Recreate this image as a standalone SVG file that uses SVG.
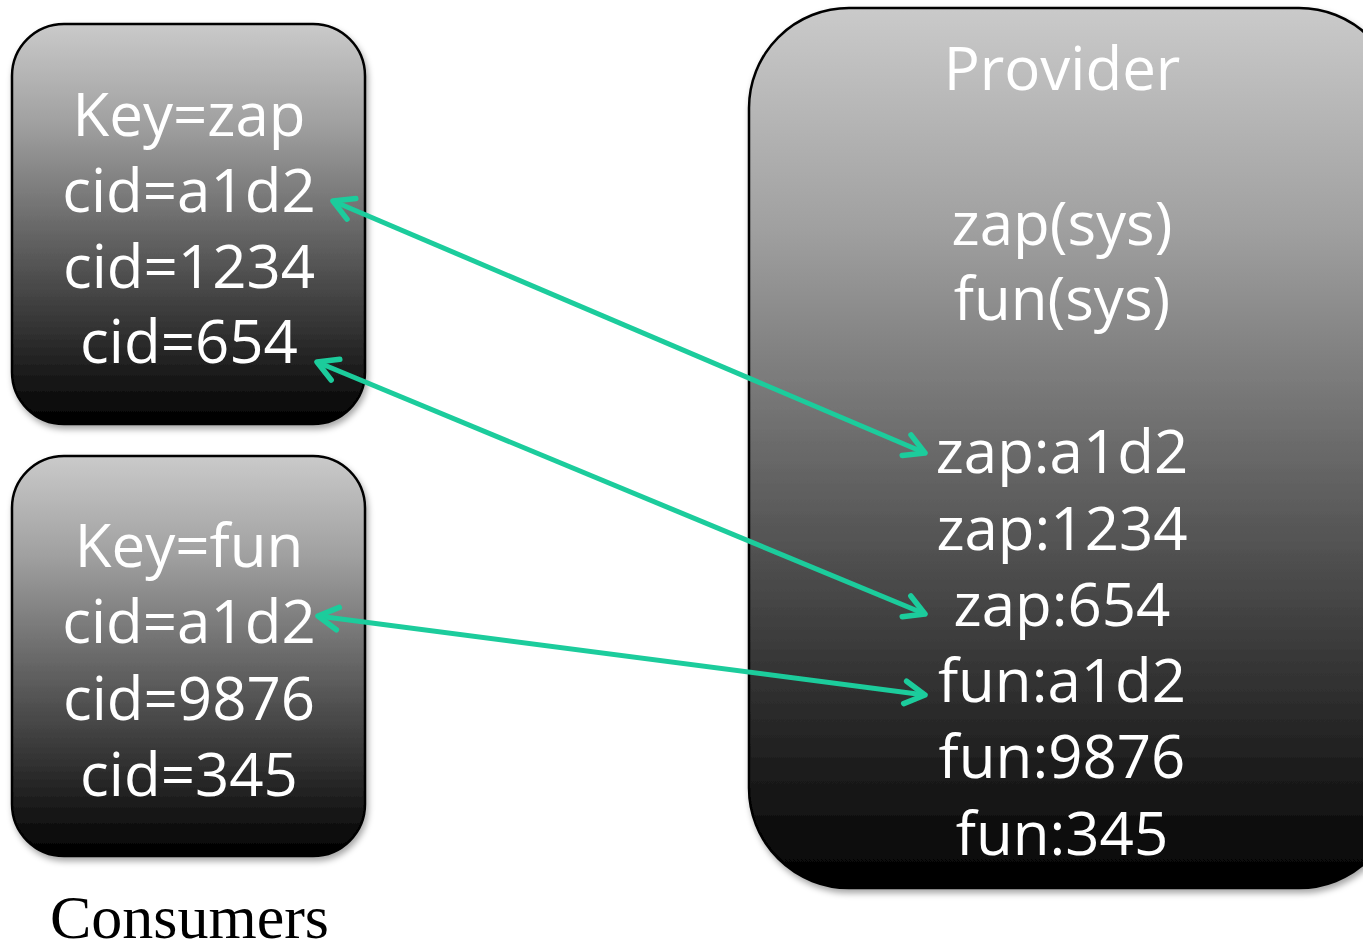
<svg xmlns="http://www.w3.org/2000/svg" width="1363" height="950" viewBox="0 0 1363 950">
<style>
.box{stroke:#000;stroke-width:2.5;filter:url(#sh)}
.t{font-family:"Open Sans","DejaVu Sans",sans-serif;font-size:60px;fill:#fff;text-anchor:middle}
.c{stroke:#1ccc9c;stroke-width:5;fill:none;marker-start:url(#ah);marker-end:url(#ah)}
.lbl{font-family:"Liberation Serif","Times New Roman",serif;font-size:62px;fill:#000}
</style>
<defs>
<linearGradient id="g1" x1="0" y1="0" x2="0" y2="1">
<stop offset="0" stop-color="#cacaca"/>
<stop offset="0.25" stop-color="#a0a0a0"/>
<stop offset="0.5" stop-color="#6a6a6a"/>
<stop offset="0.75" stop-color="#353535"/>
<stop offset="1" stop-color="#000"/>
</linearGradient>
<filter id="sh" x="-10%" y="-10%" width="120%" height="120%">
<feDropShadow dx="2" dy="4" stdDeviation="3" flood-color="#000" flood-opacity="0.35"/>
</filter>
<marker id="ah" viewBox="0 0 12 12" refX="10" refY="6" markerWidth="6" markerHeight="6" orient="auto-start-reverse" markerUnits="strokeWidth">
<polyline points="2,1.5 10,6 2,10.5" fill="none" stroke="#1ccc9c" stroke-width="2.2" stroke-linecap="round" stroke-linejoin="round"/>
</marker>
</defs>
<g id="consumer-zap">
<rect class="box" x="12" y="24" width="353" height="400" rx="52" fill="url(#g1)"/>
<text class="t" x="189" y="136">Key=zap</text>
<text class="t" x="189" y="212">cid=a1d2</text>
<text class="t" x="189" y="288">cid=1234</text>
<text class="t" x="189" y="363">cid=654</text>
</g>
<g id="consumer-fun">
<rect class="box" x="12" y="456" width="353" height="400" rx="52" fill="url(#g1)"/>
<text class="t" x="189" y="567">Key=fun</text>
<text class="t" x="189" y="643">cid=a1d2</text>
<text class="t" x="189" y="720">cid=9876</text>
<text class="t" x="189" y="796">cid=345</text>
</g>
<g id="provider">
<rect class="box" x="749" y="8" width="650" height="880" rx="100" fill="url(#g1)"/>
<text class="t" x="1062" y="90">Provider</text>
<text class="t" x="1062" y="245">zap(sys)</text>
<text class="t" x="1062" y="320">fun(sys)</text>
<text class="t" x="1062" y="473">zap:a1d2</text>
<text class="t" x="1062" y="550">zap:1234</text>
<text class="t" x="1062" y="626">zap:654</text>
<text class="t" x="1062" y="702">fun:a1d2</text>
<text class="t" x="1062" y="778">fun:9876</text>
<text class="t" x="1062" y="855">fun:345</text>
</g>
<g id="connectors">
<line class="c" x1="333" y1="201" x2="925" y2="453"/>
<line class="c" x1="317" y1="362" x2="925" y2="614"/>
<line class="c" x1="318" y1="616" x2="925" y2="695"/>
</g>
<g id="label">
<text class="lbl" x="50" y="938">Consumers</text>
</g>
</svg>
